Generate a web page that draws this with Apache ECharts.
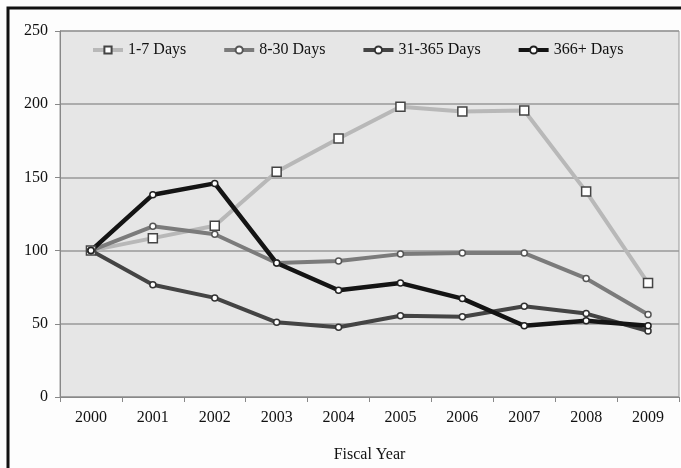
<!DOCTYPE html>
<html><head><meta charset="utf-8">
<script src="https://cdn.jsdelivr.net/npm/echarts@6/dist/echarts.min.js"></script>
<style>html,body{margin:0;padding:0;background:#fff}#c{width:681px;height:468px}</style>
</head><body><div id="c"></div>
<script>
const years = ['2000','2001','2002','2003','2004','2005','2006','2007','2008','2009'];
const days1to7 = [100, 108.5, 117, 153.8, 176.6, 198.2, 195, 195.7, 140.3, 77.8];
const days8to30 = [100, 116.6, 111.2, 91.5, 92.9, 97.6, 98.3, 98.3, 81, 56.4];
const days31to365 = [100, 76.7, 67.7, 51, 47.6, 55.5, 54.8, 62, 57, 45.1];
const days366plus = [100, 138.2, 145.9, 91.5, 72.9, 77.8, 67.2, 48.7, 52.1, 48.7];
const seriesNames = ['1-7 Days', '8-30 Days', '31-365 Days', '366+ Days'];
const yTicks = [0, 50, 100, 150, 200, 250];

const font = '"Liberation Serif", "DejaVu Serif", serif';
const chart = echarts.init(document.getElementById('c'));
function mk(name, data, color, symbol, size, border, width) {
  return {
    name, type: 'line', data, symbol, symbolSize: size,
    lineStyle: { color, width },
    itemStyle: { color: '#ffffff', borderColor: border, borderWidth: 1.5 },
    color, z: 3
  };
}
chart.setOption({
  animation: false,
  backgroundColor: '#fdfdfd',
  graphic: [{ type: 'rect', shape: { x: 8, y: 8, width: 700, height: 500 },
    style: { fill: 'none', stroke: '#111', lineWidth: 3 }, z: 100 }],
  grid: { left: 60, right: 2, top: 31, bottom: 67, show: true,
    backgroundColor: '#e6e6e6', borderColor: '#999', borderWidth: 1 },
  legend: {
    top: 37, left: 86, itemGap: 36, itemWidth: 30, itemHeight: 9,
    data: seriesNames,
    lineStyle: { width: 4 },
    textStyle: { fontFamily: font, fontSize: 16, color: '#111' }
  },
  xAxis: {
    type: 'category', data: years, boundaryGap: true,
    name: 'Fiscal Year', nameLocation: 'middle', nameGap: 50,
    nameTextStyle: { fontFamily: font, fontSize: 16, color: '#111' },
    axisLine: { lineStyle: { color: '#888' } },
    axisTick: { show: true, length: 5, lineStyle: { color: '#888' } },
    axisLabel: { fontFamily: font, fontSize: 16, color: '#111', margin: 13 }
  },
  yAxis: {
    type: 'value', min: 0, max: 250, interval: 50,
    axisLine: { show: true, lineStyle: { color: '#888' } },
    axisTick: { show: true, length: 5, lineStyle: { color: '#888' } },
    splitLine: { lineStyle: { color: '#999', width: 1.5 } },
    axisLabel: { fontFamily: font, fontSize: 16, color: '#111', margin: 12,
      formatter: v => yTicks.includes(v) ? String(v) : '' }
  },
  series: [
    mk(seriesNames[0], days1to7, '#b8b8b8', 'rect', 9, '#444', 4),
    mk(seriesNames[1], days8to30, '#7b7b7b', 'circle', 6, '#555', 4),
    mk(seriesNames[2], days31to365, '#444444', 'circle', 6, '#333', 4),
    mk(seriesNames[3], days366plus, '#141414', 'circle', 6, '#222', 4.5)
  ]
});
</script></body></html>
